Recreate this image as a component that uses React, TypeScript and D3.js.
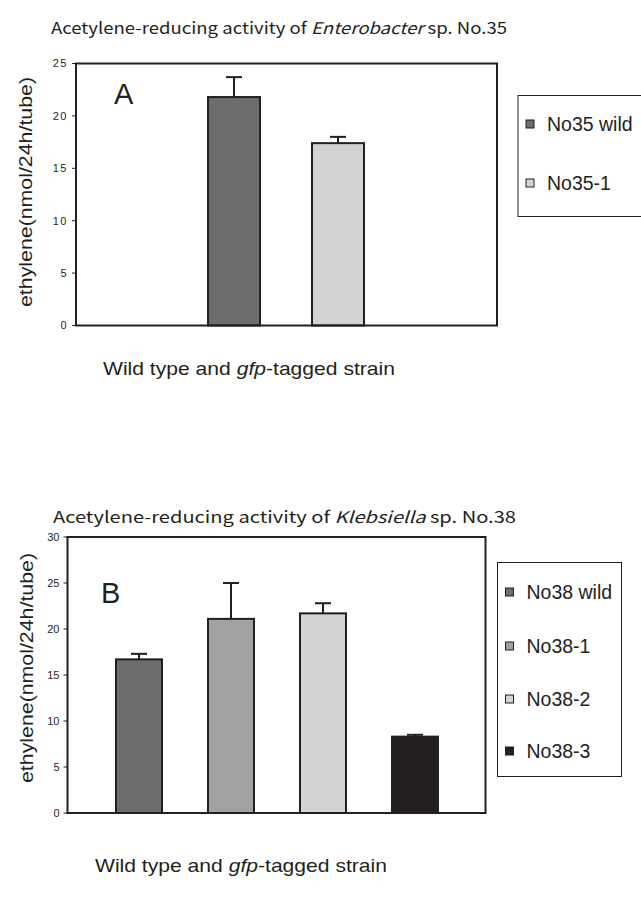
import * as d3 from 'd3';

// panel A: Enterobacter sp. No.35
const seriesA = ['No35 wild', 'No35-1'];
const valuesA = [21.8, 17.4];
const errorsA = [1.9, 0.6];
const ticksA = [0, 5, 10, 15, 20, 25];

// panel B: Klebsiella sp. No.38
const seriesB = ['No38 wild', 'No38-1', 'No38-2', 'No38-3'];
const valuesB = [16.7, 21.1, 21.7, 8.3];
const errorsB = [0.6, 3.9, 1.1, 0.2];
const ticksB = [0, 5, 10, 15, 20, 25, 30];

const colorsA = ['#6b6c6e', '#d2d3d5'];
const colorsB = ['#6b6c6e', '#a0a1a3', '#d2d3d5', '#231f20'];

const INK = '#231f20';
const SANS = '"Liberation Sans", Arial, sans-serif';
const GOTHIC = '"Noto Sans CJK JP", "Liberation Sans", sans-serif';

interface PanelProps {
  series: string[];
  values: number[];
  errors: number[];
  colors: string[];
  ticks: number[];
  box: { x0: number; x1: number; y0: number; y1: number };
  bandRange: [number, number];
  letter: string;
  letterPos: [number, number];
  title: [string, string, string];
  titlePos: [number, number];
  titleLen: number;
  xLabelPos: [number, number];
  yLabelPos: [number, number];
  tickSpacing: number;
  legend: { x: number; y: number; w: number; h: number; rows: number[] };
}

const Panel = (p: PanelProps) => {
  const y = d3.scaleLinear().domain([0, p.ticks[p.ticks.length - 1]]).range([p.box.y1, p.box.y0]);
  const x = d3.scaleBand<string>().domain(p.series).range(p.bandRange).paddingInner(0.5).paddingOuter(0.25);
  const cap = 8;

  return (
    <g>
      <text x={p.titlePos[0]} y={p.titlePos[1]} fontFamily={GOTHIC} fontSize={16} fill={INK}
        textLength={p.titleLen} lengthAdjust="spacingAndGlyphs">
        {p.title[0]}
        <tspan fontStyle="italic">{p.title[1]}</tspan>
        {p.title[2]}
      </text>

      {/* bars */}
      {p.series.map((s, i) => {
        const bx = x(s)!;
        const top = y(p.values[i]);
        const cx = bx + x.bandwidth() / 2;
        const et = y(p.values[i] + p.errors[i]);
        return (
          <g key={s}>
            <line x1={cx} x2={cx} y1={top} y2={et} stroke={INK} strokeWidth={2} />
            <line x1={cx - cap} x2={cx + cap} y1={et} y2={et} stroke={INK} strokeWidth={2} />
            <rect x={bx} y={top} width={x.bandwidth()} height={p.box.y1 - top}
              fill={p.colors[i]} stroke={INK} strokeWidth={2} />
          </g>
        );
      })}

      {/* plot frame */}
      <rect x={p.box.x0} y={p.box.y0} width={p.box.x1 - p.box.x0} height={p.box.y1 - p.box.y0}
        fill="none" stroke={INK} strokeWidth={2} />

      {/* y ticks */}
      {p.ticks.map(t => (
        <g key={t}>
          <line x1={p.box.x0 - 4} x2={p.box.x0} y1={y(t)} y2={y(t)} stroke={INK} strokeWidth={1} />
          <text x={p.box.x0 - 8} y={y(t)} dy="0.35em" textAnchor="end" fontFamily={SANS} fontSize={11}
            letterSpacing={p.tickSpacing} fill={INK}>{t}</text>
        </g>
      ))}

      <text transform={`translate(${p.yLabelPos[0]},${p.yLabelPos[1]}) rotate(-90)`} textAnchor="middle"
        dy="0.35em" fontFamily={SANS} fontSize={19} fill={INK} textLength={230} lengthAdjust="spacingAndGlyphs">
        ethylene(nmol/24h/tube)
      </text>

      <text x={p.letterPos[0]} y={p.letterPos[1]} fontFamily={SANS} fontSize={29} fill={INK}>{p.letter}</text>

      <text x={p.xLabelPos[0]} y={p.xLabelPos[1]} fontFamily={SANS} fontSize={19} fill={INK}
        textLength={292} lengthAdjust="spacingAndGlyphs">
        Wild type and <tspan fontStyle="italic">gfp</tspan>-tagged strain
      </text>

      {/* legend */}
      <rect x={p.legend.x} y={p.legend.y} width={p.legend.w} height={p.legend.h} fill="#fff" stroke={INK} strokeWidth={1} />
      {p.series.map((s, i) => (
        <g key={s} transform={`translate(${p.legend.x + 8},${p.legend.rows[i]})`}>
          <rect x={0} y={-4} width={8} height={8} fill={p.colors[i]} stroke={INK} strokeWidth={1} />
          <text x={21} y={0} dy="0.36em" fontFamily={SANS} fontSize={19.5} fill={INK}>{s}</text>
        </g>
      ))}
    </g>
  );
};

export default function App() {
  return (
    <svg width={641} height={905} style={{ position: 'absolute', left: 0, top: 0, background: '#fff' }}>
      <rect width={641} height={905} fill="#fff" />
      <Panel
        series={seriesA} values={valuesA} errors={errorsA} colors={colorsA} ticks={ticksA}
        box={{ x0: 76, x1: 497, y0: 63.5, y1: 325.5 }}
        bandRange={[182, 390]}
        letter="A" letterPos={[114, 104]}
        title={['Acetylene-reducing activity of ', 'Enterobacter', ' sp. No.35']} titlePos={[51, 34]} titleLen={456}
        xLabelPos={[103, 375]} yLabelPos={[25, 192]} tickSpacing={1.5}
        legend={{ x: 518, y: 95.5, w: 130, h: 121, rows: [124, 183] }}
      />
      <Panel
        series={seriesB} values={valuesB} errors={errorsB} colors={colorsB} ticks={ticksB}
        box={{ x0: 67.5, x1: 485.5, y0: 537, y1: 813 }}
        bandRange={[93, 461]}
        letter="B" letterPos={[101, 603]}
        title={['Acetylene-reducing activity of ', 'Klebsiella', ' sp. No.38']} titlePos={[53, 523]} titleLen={463}
        xLabelPos={[95, 872]} yLabelPos={[26, 668]} tickSpacing={0}
        legend={{ x: 497.5, y: 562.5, w: 124, h: 214, rows: [592, 646, 699, 751] }}
      />
    </svg>
  );
}
